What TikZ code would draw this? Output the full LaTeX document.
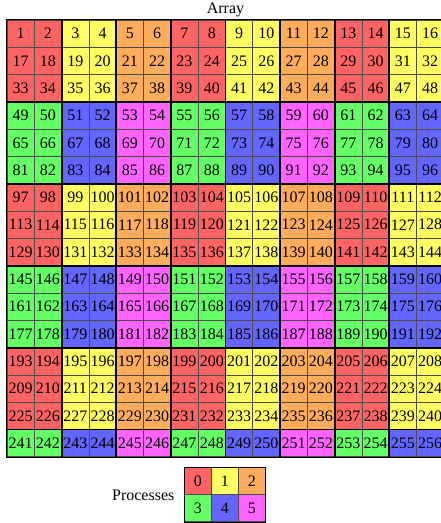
\documentclass[tikz,border=0pt]{standalone}
\usepackage{fontspec}
\setmainfont{Liberation Serif}
\usetikzlibrary{positioning}
\definecolor{proc0}{RGB}{255, 100, 100}
\definecolor{proc1}{RGB}{255, 255, 100}
\definecolor{proc2}{RGB}{255, 172, 92}
\definecolor{proc3}{RGB}{100, 255, 100}
\definecolor{proc4}{RGB}{100, 100, 255}
\definecolor{proc5}{RGB}{255, 100, 255}

\begin{document}
\begin{tikzpicture}[
  x=0.75pt, y=-0.75pt,
  cell/.style={draw=black!70, line width=0.5pt, minimum width=20.47pt, minimum height=20.47pt, inner sep=0pt, font=\fontsize{12}{14}\selectfont},
  legcell/.style={cell, minimum width=20.25pt, minimum height=20.25pt},
  blockline/.style={draw=black, line width=0.6pt},
  lbl/.style={font=\fontsize{12}{14}\selectfont, inner sep=1pt}
]
  \useasboundingbox (0,0) rectangle (440,523);
  \foreach \r in {0,...,15} {
    \foreach \c in {0,...,15} {
      \pgfmathtruncatemacro{\p}{mod(floor(\r/3),2)*3+mod(floor(\c/2),3)}
      \pgfmathtruncatemacro{\n}{16*\r+\c+1}
      \node[cell, fill=proc\p] (c-\r-\c) at ({7+27.3*(\c+0.5)}, {20+27.3*(\r+0.5)}) {\n};
    }
  }
  \foreach \b in {0,...,5} {
    \foreach \k in {0,...,7} {
      \pgfmathtruncatemacro{\ra}{3*\b}
      \pgfmathtruncatemacro{\rb}{min(3*\b+2,15)}
      \pgfmathtruncatemacro{\ca}{2*\k}
      \pgfmathtruncatemacro{\cb}{2*\k+1}
      \draw[blockline] (c-\ra-\ca.north west) rectangle (c-\rb-\cb.south east);
    }
  }
  \coordinate (gridtop) at (225.5,20);
  \node[lbl, above=1pt of gridtop] (title) {Array};

  \foreach \p in {0,...,5} {
    \node[legcell, fill=proc\p] (p\p) at ({184.3+27*(mod(\p,3)+0.5)}, {467.7+27*(floor(\p/3)+0.5)}) {\p};
  }
  \draw[blockline] (p0.north west) rectangle (p5.south east);
  \node[lbl, left=6pt of p0.south west] (proclabel) {Processes};
\end{tikzpicture}
\end{document}
